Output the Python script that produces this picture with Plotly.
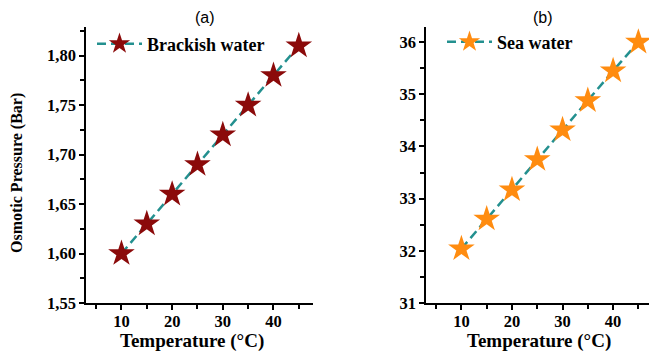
import plotly.graph_objects as go

temps = [10, 15, 20, 25, 30, 35, 40, 45]
brackish = [1.60, 1.63, 1.66, 1.69, 1.72, 1.75, 1.78, 1.81]
sea = [32.04, 32.61, 33.17, 33.75, 34.32, 34.88, 35.45, 36.00]

W, H = 649, 352
serif = "Liberation Serif"
line_color = "#23908f"

fig = go.Figure()
fig.add_trace(go.Scatter(
    x=temps, y=brackish, mode="lines+markers", name="Brackish water",
    line=dict(color=line_color, width=2.5, dash="9px,5px"),
    marker=dict(symbol="star", size=20, color="#8b0a0a", line=dict(width=0)),
    xaxis="x", yaxis="y", legend="legend"))
fig.add_trace(go.Scatter(
    x=temps, y=sea, mode="lines+markers", name="Sea water",
    line=dict(color=line_color, width=2.5, dash="9px,5px"),
    marker=dict(symbol="star", size=20, color="#ff8c10", line=dict(width=0)),
    xaxis="x2", yaxis="y2", legend="legend2"))

tickfont = dict(family=serif, size=16.5, color="black", weight="bold")
common_x = dict(showline=True, linecolor="black", linewidth=1.5, ticks="outside",
                ticklen=5, tickwidth=1.5, tickcolor="black", showgrid=False, zeroline=False,
                tickfont=tickfont, dtick=10, tick0=10, ticklabelstandoff=-3,
                minor=dict(ticks="outside", ticklen=4, tickwidth=1.5, tickcolor="black", dtick=5, tick0=5),
                automargin=False, mirror=False)
common_y = dict(showline=True, linecolor="black", linewidth=1.5, ticks="outside",
                ticklen=5, tickwidth=1.5, tickcolor="black", showgrid=False, zeroline=False,
                tickfont=tickfont, automargin=False)

y0 = 1 - 303 / H
y1 = 1 - 27 / H
legfont = dict(family=serif, size=18, color="black", weight="bold")
fig.update_layout(
    width=W, height=H, margin=dict(l=0, r=0, t=0, b=0),
    paper_bgcolor="white", plot_bgcolor="white",
    separators=", ",
    xaxis=dict(domain=[86 / W, 313 / W], range=[3, 47.8], anchor="y", **common_x),
    yaxis=dict(domain=[y0, y1], range=[1.55, 1.829], dtick=0.05, tick0=1.55, tickformat=".2f",
               minor=dict(ticks="outside", ticklen=4, tickwidth=1.5, tickcolor="black", dtick=0.025, tick0=1.55),
               anchor="x", **common_y),
    xaxis2=dict(domain=[426 / W, 1.0], range=[3, 47.1], anchor="y2", **common_x),
    yaxis2=dict(domain=[y0, y1], range=[31, 36.29], dtick=1, tick0=31,
                minor=dict(ticks="outside", ticklen=4, tickwidth=1.5, tickcolor="black", dtick=0.5, tick0=31),
                anchor="x2", **common_y),
    legend=dict(x=92 / W, y=1 - 44 / H, xanchor="left", yanchor="middle", bgcolor="rgba(0,0,0,0)",
                font=legfont, itemwidth=45),
    legend2=dict(x=442 / W, y=1 - 42 / H, xanchor="left", yanchor="middle", bgcolor="rgba(0,0,0,0)",
                 font=legfont, itemwidth=45),
    showlegend=True,
)

annots = [
    dict(text="(a)", x=205 / W, y=1 - 17 / H, font=dict(family="Liberation Sans", size=16, color="black")),
    dict(text="(b)", x=543 / W, y=1 - 17 / H, font=dict(family="Liberation Sans", size=16, color="black")),
    dict(text="Temperature (°C)", x=192 / W, y=1 - 341 / H,
         font=dict(family=serif, size=19, color="black", weight="bold")),
    dict(text="Temperature (°C)", x=539 / W, y=1 - 341 / H,
         font=dict(family=serif, size=19, color="black", weight="bold")),
    dict(text="Osmotic Pressure (Bar)", x=17 / W, y=1 - 173 / H, textangle=-90,
         font=dict(family=serif, size=16, color="black", weight="bold")),
]
for a in annots:
    fig.add_annotation(xref="paper", yref="paper", xanchor="center", yanchor="middle",
                       showarrow=False, **a)

fig.write_html("out.html")
